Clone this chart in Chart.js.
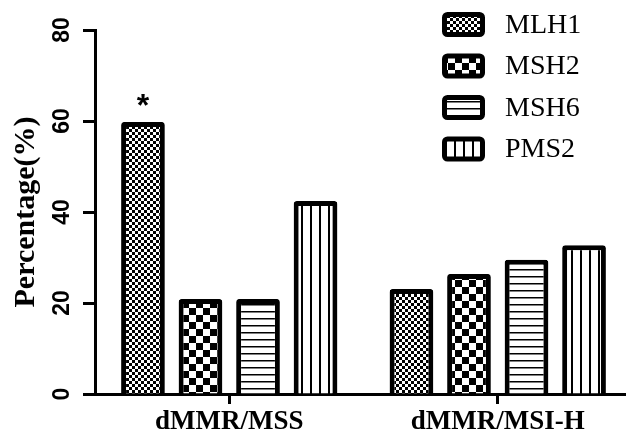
<!DOCTYPE html>
<html>
<head>
<meta charset="utf-8">
<script src="https://cdn.jsdelivr.net/npm/chart.js@4.4.1/dist/chart.umd.min.js"></script>
<style>
    html, body { margin: 0; padding: 0; background: #fff; overflow: hidden; }
    #wrap { width: 632px; height: 435px; }
</style>
</head>
<body>
<div id="wrap"><canvas id="chart" width="632" height="435"></canvas></div>
<script>
// Data
const groups = ["dMMR/MSS", "dMMR/MSI-H"];
const genes = ["MLH1", "MSH2", "MSH6", "PMS2"];
const mlh1 = [59.8, 23.1];
const msh2 = [20.9, 26.4];
const msh6 = [20.9, 29.5];
const pms2 = [42.4, 32.7];
const yTicks = [0, 20, 40, 60, 80];
const starMarks = [{ series: 0, index: 0, text: "*" }];

// Fill patterns
function makePattern(kind) {
    const c = document.createElement("canvas");
    const g = c.getContext("2d");
    if (kind === "fine") {
        c.width = 6; c.height = 6;
        g.fillStyle = "#fff"; g.fillRect(0, 0, 6, 6);
        g.fillStyle = "#000";
        g.fillRect(0, 0, 3, 3); g.fillRect(3, 3, 3, 3);
    } else if (kind === "checker") {
        c.width = 14; c.height = 14;
        g.fillStyle = "#fff"; g.fillRect(0, 0, 14, 14);
        g.fillStyle = "#000";
        g.fillRect(7, 0, 7, 7); g.fillRect(0, 7, 7, 7);
    } else if (kind === "hlines") {
        c.width = 7; c.height = 7;
        g.fillStyle = "#fff"; g.fillRect(0, 0, 7, 7);
        g.fillStyle = "#000"; g.fillRect(0, 3, 7, 1.5);
    } else {
        c.width = 9; c.height = 9;
        g.fillStyle = "#fff"; g.fillRect(0, 0, 9, 9);
        g.fillStyle = "#000"; g.fillRect(4, 0, 2, 9);
    }
    return g.createPattern(c, "repeat");
}

const ctx = document.getElementById("chart").getContext("2d");
const fills = [makePattern("fine"), makePattern("checker"), makePattern("hlines"), makePattern("vlines")];
const series = [mlh1, msh2, msh6, pms2];

// Legend top right, drawn with the same patterns
const boxLegend = {
    id: "boxLegend",
    afterDraw(chart) {
        const c = chart.ctx;
        c.save();
        chart.data.datasets.forEach((ds, i) => {
            const x = 442, y = 12 + i * 41.5, w = 43, h = 25;
            c.beginPath();
            c.roundRect(x + 2.5, y + 2.5, w - 5, h - 5, 3);
            c.fillStyle = ds.backgroundColor;
            c.fill();
            c.lineWidth = 5;
            c.strokeStyle = "#000";
            c.stroke();
            c.fillStyle = "#000";
            c.font = "28px 'Liberation Serif'";
            c.textBaseline = "middle";
            c.textAlign = "left";
            c.fillText(ds.label, 505, y + h / 2 + 1);
        });
        c.restore();
    }
};

// Significance star above a bar
const stars = {
    id: "stars",
    afterDatasetsDraw(chart) {
        const c = chart.ctx;
        c.save();
        c.fillStyle = "#000";
        c.font = "bold 32px 'Liberation Sans'";
        c.textAlign = "center";
        c.textBaseline = "middle";
        starMarks.forEach(m => {
            const bar = chart.getDatasetMeta(m.series).data[m.index];
            c.fillText(m.text, bar.x, bar.y - 15);
        });
        c.restore();
    }
};

new Chart(ctx, {
    type: "bar",
    data: {
        labels: groups,
        datasets: genes.map((g, i) => ({
            label: g,
            data: series[i],
            backgroundColor: fills[i],
            borderColor: "#000",
            borderWidth: 5,
            borderRadius: 3,
            categoryPercentage: 0.857,
            barPercentage: 0.76
        }))
    },
    options: {
        responsive: false,
        animation: false,
        layout: { padding: { top: 30, right: 0, left: 0, bottom: 0 } },
        plugins: { legend: { display: false }, tooltip: { enabled: false } },
        scales: {
            x: {
                afterFit(s) { s.height = 41; },
                border: { color: "#000", width: 3 },
                grid: { offset: false, drawOnChartArea: false, tickLength: 10, tickWidth: 3, tickColor: "#000" },
                ticks: {
                    color: "#000",
                    padding: 2,
                    font: { family: "'Liberation Serif'", size: 27, weight: "bold" }
                }
            },
            y: {
                min: 0,
                max: 80,
                afterFit(s) { s.width = 95; },
                afterBuildTicks(s) { s.ticks = yTicks.map(v => ({ value: v })); },
                border: { color: "#000", width: 3 },
                grid: { drawOnChartArea: false, tickLength: 12, tickWidth: 3, tickColor: "#000" },
                ticks: {
                    color: "#000",
                    minRotation: 90,
                    maxRotation: 90,
                    crossAlign: "center",
                    padding: 8,
                    font: { family: "'Liberation Sans'", size: 23, weight: "bold" }
                },
                title: {
                    display: true,
                    text: "Percentage(%)",
                    color: "#000",
                    padding: { top: 8, bottom: 0 },
                    font: { family: "'Liberation Serif'", size: 30, weight: "bold" }
                }
            }
        }
    },
    plugins: [boxLegend, stars]
});
</script>
</body>
</html>
